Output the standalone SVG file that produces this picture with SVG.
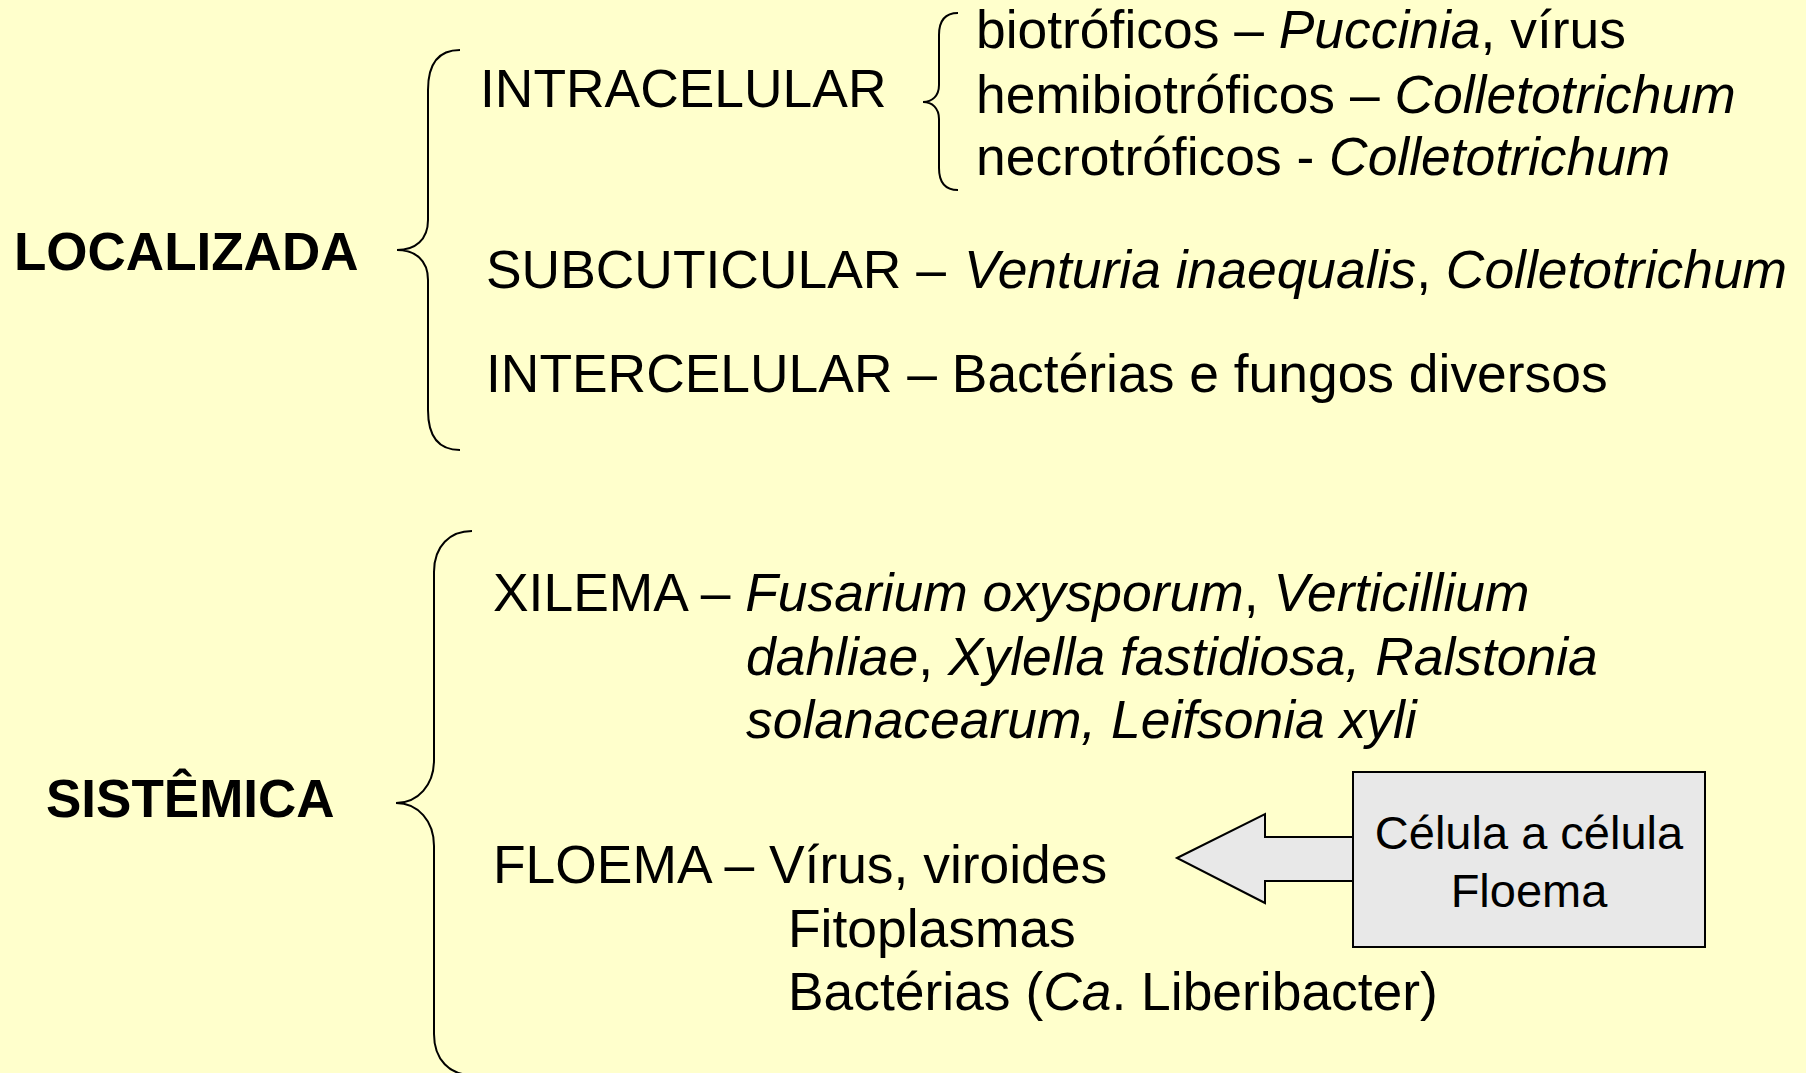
<svg xmlns="http://www.w3.org/2000/svg" width="1806" height="1073" viewBox="0 0 1806 1073">
<style>
  text { font-family: "Liberation Sans", Arial, sans-serif; fill: #000; }
  .t { font-size: 53.4px; }
  .h { font-size: 53px; font-weight: bold; }
  .box { font-size: 47px; }
  .i { font-style: italic; }
  .brace { fill: none; stroke: #000; stroke-width: 2; }
  .shape { fill: #E8E8E8; stroke: #000; stroke-width: 2; }
</style>
<rect x="0" y="0" width="1806" height="1073" fill="#FFFFCC"/>

<g id="braces">
  <path class="brace" d="M 460 50 C 440 50 428 62 428 90 L 428 220 C 428 240 415 250 397 250 C 415 250 428 260 428 280 L 428 410 C 428 438 440 450 460 450"/>
  <path class="brace" d="M 958 13 C 946 13 939 20 939 35 L 939 85 C 939 96 932 102 923 102 C 932 102 939 108 939 119 L 939 168 C 939 183 946 190 958 190"/>
  <path class="brace" d="M 472 531 C 450 531 434 546 434 572 L 434 760 C 434 785 418 803 396 803 C 418 803 434 821 434 846 L 434 1034 C 434 1060 450 1075 472 1075"/>
</g>

<g id="localizada">
  <text class="h" x="14" y="270">LOCALIZADA</text>
</g>

<g id="intracelular">
  <text class="t" x="480" y="107">INTRACELULAR</text>
</g>

<g id="intracelular-types">
  <text class="t" x="976" y="48">biotróficos – <tspan class="i">Puccinia</tspan>, vírus</text>
  <text class="t" x="976" y="113">hemibiotróficos – <tspan class="i">Colletotrichum</tspan></text>
  <text class="t" x="976" y="175">necrotróficos - <tspan class="i">Colletotrichum</tspan></text>
</g>

<g id="subcuticular">
  <text class="t" x="486" y="288">SUBCUTICULAR – <tspan class="i" x="964">Venturia inaequalis</tspan>, <tspan class="i">Colletotrichum</tspan></text>
</g>

<g id="intercelular">
  <text class="t" x="486" y="392">INTERCELULAR – Bactérias e fungos diversos</text>
</g>

<g id="sistemica">
  <text class="h" x="46" y="817">SISTÊMICA</text>
</g>

<g id="xilema">
  <text class="t" x="493" y="611">XILEMA – <tspan class="i">Fusarium oxysporum</tspan>, <tspan class="i">Verticillium</tspan></text>
  <text class="t" x="746" y="675"><tspan class="i">dahliae</tspan>, <tspan class="i">Xylella fastidiosa, Ralstonia</tspan></text>
  <text class="t i" x="746" y="738">solanacearum, Leifsonia xyli</text>
</g>

<g id="floema">
  <text class="t" x="493" y="883">FLOEMA – Vírus, viroides</text>
  <text class="t" x="788" y="947">Fitoplasmas</text>
  <text class="t" x="788" y="1010">Bactérias (<tspan class="i">Ca</tspan>. Liberibacter)</text>
</g>

<g id="connectors">
  <polygon class="shape" points="1177,858 1265,814 1265,837 1353,837 1353,881 1265,881 1265,903"/>
</g>

<g id="callout">
  <rect class="shape" x="1353" y="772" width="352" height="175"/>
  <text class="box" x="1529" y="849" text-anchor="middle">Célula a célula</text>
  <text class="box" x="1529" y="907" text-anchor="middle">Floema</text>
</g>
</svg>
